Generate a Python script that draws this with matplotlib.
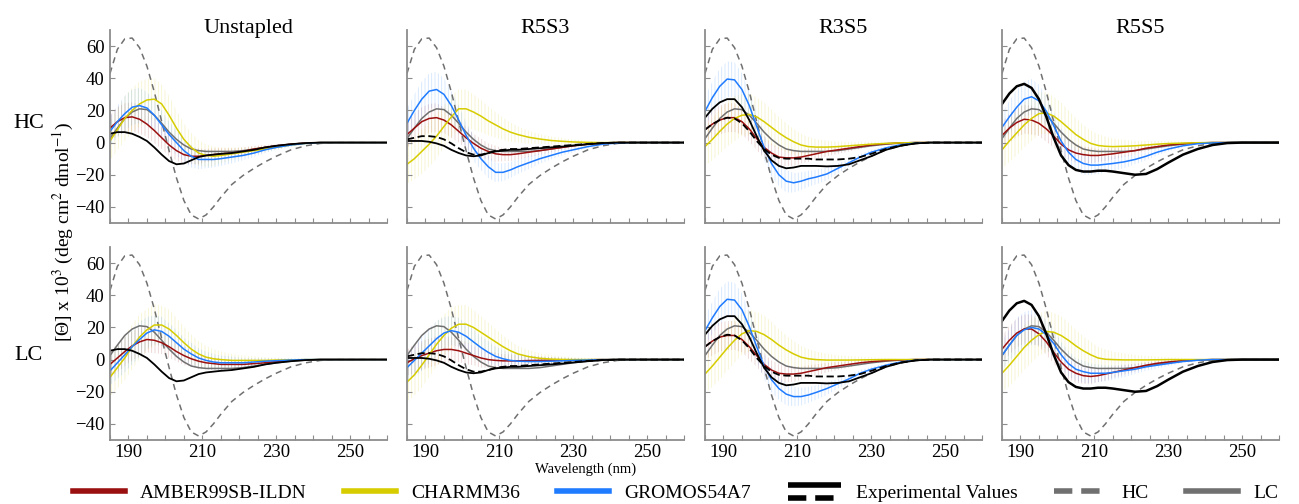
import numpy as np
import matplotlib
matplotlib.use("Agg")
import matplotlib.pyplot as plt
from matplotlib.colors import to_rgba
from matplotlib.lines import Line2D
from matplotlib.legend_handler import HandlerBase

plt.rcParams["font.family"] = ["Liberation Serif", "DejaVu Serif"]
plt.rcParams["mathtext.fontset"] = "stix"
plt.rcParams["hatch.linewidth"] = 0.6

# wavelength grid (nm)
wl = [185, 187, 189, 191, 193, 195, 197, 199, 201, 203, 205, 207, 209, 211,
      213, 215, 218, 221, 224, 227, 230, 234, 238, 242, 246, 250, 260]

columns = ["Unstapled", "R5S3", "R3S5", "R5S5"]
rows = ["HC", "LC"]

# reference spectra, same in every panel
ref_hc = [43, 58, 64.5, 65, 59, 47.5, 31.5, 13, -5, -22, -36, -45, -47.5, -45,
          -40, -34, -26, -20.5, -16, -12, -8.5, -4.5, -2, -0.5, 0, 0, 0]
ref_lc = [2.5, 9, 15, 19, 21, 20.5, 17, 12, 6.5, 2, -1.5, -4, -5, -5.5,
          -5.5, -5.5, -5.5, -5, -4, -3, -2, -1, -0.3, 0, 0, 0, 0]

# experimental values per peptide
exp_unst = [5.5, 6.5, 6.5, 5.5, 3.5, 1, -3, -7.5, -11.5, -13.5, -13, -11, -9, -8,
            -7.5, -7, -6.5, -5.5, -4.5, -3, -2, -1, -0.3, 0, 0, 0, 0]
exp_r5s3 = [1, 1, 1, 0.5, -0.5, -2, -4.5, -6.5, -8, -8.5, -8, -6.5, -5.5, -5,
            -4.5, -4.5, -4, -3.5, -3, -2.5, -1.8, -1, -0.3, 0, 0, 0, 0]
exp_r5s3_b = [2, 3, 4, 4, 3.5, 2, -0.5, -3.5, -6, -7.5, -7.5, -6.5, -5, -4.5,
              -4, -4, -3.5, -3, -2.5, -2, -1.5, -0.8, -0.3, 0, 0, 0, 0]
exp_r3s5 = [15.5, 21, 25, 27, 27, 22, 14, 4, -5, -11, -14.5, -16, -15.5, -14.5,
            -14.5, -14.5, -14.8, -14.5, -13.5, -11, -8.5, -4.5, -2, -0.5, 0, 0, 0]
exp_r3s5_b = [8, 11.5, 14, 15.5, 15, 12, 7, 1, -4, -7.5, -9.5, -10, -10, -10,
              -10, -10.5, -10.5, -10.5, -10, -9, -7, -4, -1.8, -0.5, 0, 0, 0]
exp_r5s5 = [24, 30.5, 35, 36.5, 34, 27, 16, 3, -8, -14, -17, -18, -18, -17.5,
            -17.5, -18, -19, -20, -19.5, -16.5, -12.5, -7.5, -4, -1.5, -0.3, 0, 0]

# simulations: Unstapled
unst_hc_amber = [9, 13, 15.5, 16, 14.5, 11.5, 7.5, 3, -1.5, -5, -7.5, -8.5, -8.5, -8,
                 -7.5, -7, -6.5, -5.5, -4, -3, -2, -1, -0.3, 0, 0, 0, 0]
unst_hc_charmm = [1, 8, 15, 20, 24, 26.5, 27, 24, 17, 9, 2, -3, -6.5, -8,
                  -8.5, -8, -7, -6, -5, -4, -3, -1.5, -0.5, 0, 0, 0, 0]
unst_hc_gromos = [7, 13, 18, 22, 23, 21.5, 17, 11, 5, 0, -5, -8.5, -10.5, -10.5,
                  -10.5, -10, -9, -8, -6.5, -4.5, -3, -1.5, -0.5, 0, 0, 0, 0]
unst_lc_amber = [-3, 1, 5, 8.5, 11, 12.5, 12, 10.5, 8, 5, 2.5, 0.5, -1, -2,
                 -2.5, -3, -3, -3, -2.5, -2, -1.2, -0.5, -0.2, 0, 0, 0, 0]
unst_lc_charmm = [-11, -5, 1, 8, 14, 18.5, 21.5, 21.5, 19, 15, 10.5, 6.5, 3.5, 1.5,
                  0.5, 0, -0.5, -0.5, -0.5, -0.5, -0.3, -0.2, 0, 0, 0, 0, 0]
unst_lc_gromos = [-7, -2, 3, 8, 12.5, 16.5, 18.5, 17.5, 14.5, 10.5, 6.5, 3.5, 1, -0.5,
                  -1.5, -2, -2, -2, -1.5, -1, -0.7, -0.3, 0, 0, 0, 0, 0]

# R5S3
r5s3_hc_amber = [5, 9, 13, 15, 15.5, 14, 11, 7, 3, -0.5, -3.5, -5.5, -7, -7.5,
                 -7.5, -7, -6, -5, -4, -3, -2, -1, -0.3, 0, 0, 0, 0]
r5s3_hc_charmm = [-13.5, -10, -5.5, -1, 4, 10, 16, 21, 21, 19, 16.5, 13.5, 11, 8.5,
                  6.5, 5, 3.3, 2.2, 1.3, 0.8, 0.4, 0.1, 0, 0, 0, 0, 0]
r5s3_hc_gromos = [12, 20, 27, 32, 33, 30, 23, 14, 4.5, -3.5, -10, -15, -18.5, -18.5,
                  -17, -15, -12.5, -10, -8, -6, -4.5, -2.5, -1, -0.3, 0, 0, 0]
r5s3_lc_amber = [-2, 0.5, 2.5, 4, 5.5, 6.3, 6.3, 5.5, 4, 2.5, 1, 0, -0.5, -0.8,
                 -0.8, -0.8, -0.6, -0.5, -0.4, -0.3, -0.2, -0.1, 0, 0, 0, 0, 0]
r5s3_lc_charmm = [-14, -9.5, -3.5, 3, 9.5, 15, 19.5, 22, 22, 20, 17, 14, 11, 8,
                  5.5, 3.5, 1.8, 0.8, 0.3, 0.1, 0, 0, 0, 0, 0, 0, 0]
r5s3_lc_gromos = [-5, -0.5, 4, 8.5, 13, 16.5, 18, 17, 14.5, 11, 7.5, 4.5, 2, 0.5,
                  -0.5, -1, -1.2, -1.2, -1, -0.8, -0.5, -0.3, 0, 0, 0, 0, 0]

# R3S5
r3s5_hc_amber = [8, 11.5, 14, 15.5, 15.5, 13, 8.5, 2.5, -3, -6.5, -9, -9.5, -9.5, -9,
                 -8, -7, -5.5, -4.5, -3.5, -2.5, -1.5, -0.7, -0.2, 0, 0, 0, 0]
r3s5_hc_charmm = [-2.5, 2, 7, 11.5, 15, 17, 17.5, 16, 13, 9.5, 6, 3, 0.5, -1.5,
                  -2.5, -2.8, -2.8, -2.5, -2, -1.5, -1, -0.5, -0.2, 0, 0, 0, 0]
r3s5_hc_gromos = [19.5, 28, 35, 39.5, 39, 33, 23, 10, -3, -13, -20, -24, -25, -24,
                  -22.5, -21.5, -19.5, -16, -12.5, -9, -6, -3.3, -1.3, -0.3, 0, 0, 0]
r3s5_lc_amber = [8, 11.5, 14, 15, 15, 12.5, 8, 2.5, -3, -6.5, -8.5, -9, -9, -8.5,
                 -7.5, -6.5, -5, -4, -3, -2, -1.3, -0.6, -0.2, 0, 0, 0, 0]
r3s5_lc_charmm = [-9, -4, 1.5, 7, 12, 16, 18, 17.5, 15.5, 12.5, 9, 6, 3.5, 1.5,
                  0.5, 0, -0.3, -0.3, -0.3, -0.2, -0.1, 0, 0, 0, 0, 0, 0]
r3s5_lc_gromos = [18, 26, 33, 37.5, 37, 31, 20.5, 8, -4, -12.5, -18, -21.5, -23, -23,
                  -22, -20.5, -18, -15, -12, -8.5, -6, -3.5, -1.5, -0.4, 0, 0, 0]

# R5S5
r5s5_hc_amber = [4.5, 9, 12.5, 14.5, 14, 12, 8.5, 4, -1, -4.5, -6.5, -7.5, -8, -8,
                 -7.5, -7, -6, -5, -3.5, -2.5, -1.5, -0.7, -0.2, 0, 0, 0, 0]
r5s5_hc_charmm = [-4.5, 1, 6, 11, 15, 18, 18.5, 16.5, 13, 9, 5, 2, -0.5, -1.8,
                  -2.3, -2.5, -2.3, -2, -1.5, -1, -0.6, -0.3, -0.1, 0, 0, 0, 0]
r5s5_hc_gromos = [9.5, 16, 22, 27, 28.5, 26, 19.5, 10.5, 1, -6, -10.5, -13, -14, -14,
                  -13.5, -13, -12, -10.5, -8.5, -6, -4, -2, -0.7, -0.2, 0, 0, 0]
r5s5_lc_amber = [6.5, 12, 16.5, 19, 19, 16, 11, 4.5, -1.5, -6, -8.5, -10, -10.5, -10,
                 -9, -8, -6.5, -5, -3.5, -2.3, -1.5, -0.6, -0.2, 0, 0, 0, 0]
r5s5_lc_charmm = [-8.5, -3.5, 2, 7.5, 12, 15.5, 17.5, 17, 15, 12, 8.5, 5.5, 3, 1,
                  0.2, 0, -0.2, -0.2, -0.2, -0.1, 0, 0, 0, 0, 0, 0, 0]
r5s5_lc_gromos = [2.5, 9, 15, 18.5, 20, 19, 15.5, 10, 3, -2.5, -6, -7.5, -8.5, -8.5,
                  -8.5, -8, -7, -6, -4.5, -3.5, -2.5, -1.2, -0.4, 0, 0, 0, 0]

# spread of the simulated spectra
err_amber = [8, 9, 9, 9, 9, 8, 8, 7, 7, 6, 6, 5, 5, 4, 4, 3.5, 3, 2.5, 2, 1.5,
             1, 0.5, 0.3, 0, 0, 0, 0]
err_charmm = [12, 13, 14, 14, 14, 13, 13, 12, 12, 11, 10, 9, 8, 7, 6, 5, 4, 3,
              2.5, 2, 1.5, 1, 0.5, 0, 0, 0, 0]
err_gromos = [9, 10, 11, 11, 11, 10, 9, 9, 8, 8, 7, 7, 6, 5.5, 5, 4.5, 4, 3,
              2.5, 2, 1.5, 1, 0.5, 0, 0, 0, 0]

force_fields = ["AMBER99SB-ILDN", "CHARMM36", "GROMOS54A7"]
ff_colors = ["#9a0f0f", "#d6cc00", "#1f7bff"]
ff_errors = [err_amber, err_charmm, err_gromos]

sims = {
    ("HC", "Unstapled"): [unst_hc_amber, unst_hc_charmm, unst_hc_gromos],
    ("LC", "Unstapled"): [unst_lc_amber, unst_lc_charmm, unst_lc_gromos],
    ("HC", "R5S3"): [r5s3_hc_amber, r5s3_hc_charmm, r5s3_hc_gromos],
    ("LC", "R5S3"): [r5s3_lc_amber, r5s3_lc_charmm, r5s3_lc_gromos],
    ("HC", "R3S5"): [r3s5_hc_amber, r3s5_hc_charmm, r3s5_hc_gromos],
    ("LC", "R3S5"): [r3s5_lc_amber, r3s5_lc_charmm, r3s5_lc_gromos],
    ("HC", "R5S5"): [r5s5_hc_amber, r5s5_hc_charmm, r5s5_hc_gromos],
    ("LC", "R5S5"): [r5s5_lc_amber, r5s5_lc_charmm, r5s5_lc_gromos],
}
exp_solid = {"Unstapled": exp_unst, "R5S3": exp_r5s3, "R3S5": exp_r3s5, "R5S5": exp_r5s5}
exp_dashed = {"R5S3": exp_r5s3_b, "R3S5": exp_r3s5_b}

W, H = 1299, 504
fig = plt.figure(figsize=(W / 100, H / 100), dpi=100)

lefts = [110, 407, 705, 1002]
bottoms = [H - 223, H - 440]
aw, ah = 277, 193
axis_gray = "#8c8c8c"
x = np.array(wl)

for r, row in enumerate(rows):
    for c, col in enumerate(columns):
        ax = fig.add_axes([lefts[c] / W, bottoms[r] / H, aw / W, ah / H])

        for vals, color, err in zip(sims[(row, col)], ff_colors, ff_errors):
            y = np.array(vals)
            e = np.array(err)
            ax.fill(np.concatenate([x, x[::-1]]),
                    np.concatenate([y + e, (y - e)[::-1]]),
                    facecolor="none", edgecolor=to_rgba(color, 0.2),
                    hatch="|||||", linewidth=0)

        ax.plot(x, ref_hc, color="#707070", lw=1.1, linestyle=(0, (4, 3)))
        ax.plot(x, ref_lc, color="#707070", lw=1.1)
        for vals, color in zip(sims[(row, col)], ff_colors):
            ax.plot(x, vals, color=color, lw=1.1)
        if col in exp_dashed:
            ax.plot(x, exp_dashed[col], color="black", lw=1.3, linestyle=(0, (4, 2)))
        ax.plot(x, exp_solid[col], color="black", lw=1.8 if col == "R5S5" else 1.3)

        ax.set_xlim(185, 260)
        ax.set_ylim(-50, 70)
        ax.set_xticks([190, 210, 230, 250])
        ax.set_xticks(np.arange(185, 261, 5), minor=True)
        ax.set_yticks([-40, -20, 0, 20, 40, 60])
        for s in ["top", "right"]:
            ax.spines[s].set_visible(False)
        for s in ["left", "bottom"]:
            ax.spines[s].set_color(axis_gray)
            ax.spines[s].set_linewidth(1.3)
        ax.tick_params(which="both", direction="in", length=3.5, width=0.8,
                       color=axis_gray, labelsize=13.5)
        ax.tick_params(axis="x", pad=3)
        ax.tick_params(axis="y", pad=4)
        if r == 0:
            ax.tick_params(axis="x", labelbottom=False)
            ax.text(0.5, 0.985, col, transform=ax.transAxes, ha="center",
                    va="baseline", fontsize=16)
        if c > 0:
            ax.tick_params(axis="y", labelleft=False)

fig.text(29 / W, 1 - 124 / H, "HC", ha="center", va="center", fontsize=16)
fig.text(29 / W, 1 - 355 / H, "LC", ha="center", va="center", fontsize=16)
fig.text(63 / W, 1 - 232 / H, r"[Θ] x 10$^3$ (deg cm$^2$ dmol$^{-1}$)",
         rotation=90, ha="center", va="center", fontsize=14)
fig.text(586 / W, 1 - 469 / H, "Wavelength (nm)", ha="center", va="center",
         fontsize=10.5)


class StackedHandler(HandlerBase):
    def create_artists(self, legend, orig_handle, xdescent, ydescent,
                       width, height, fontsize, trans):
        x0, x1 = -xdescent, -xdescent + width
        top = Line2D([x0, x1], [-ydescent + height * 1.0] * 2, color="black",
                     lw=4, solid_capstyle="butt", transform=trans)
        bot = Line2D([x0, x1], [-ydescent - height * 0.0] * 2, color="black",
                     lw=4, linestyle=(0, (3.3, 1.6)), transform=trans)
        return [top, bot]


handles = [Line2D([], [], color=col, lw=4) for col in ff_colors]
exp_proxy = Line2D([], [], color="black")
handles.append(exp_proxy)
handles.append(Line2D([], [], color="#707070", lw=4, linestyle=(0, (3.3, 1.6))))
handles.append(Line2D([], [], color="#707070", lw=4))
labels = force_fields + ["Experimental Values", "HC", "LC"]

fig.legend(handles, labels, handler_map={exp_proxy: StackedHandler()},
           loc="center", bbox_to_anchor=(0.52, 0.021), ncol=6, frameon=False,
           fontsize=14, handlelength=2.7, handletextpad=0.77, columnspacing=1.9,
           borderpad=0.1)

fig.savefig("out.png", dpi=100)
